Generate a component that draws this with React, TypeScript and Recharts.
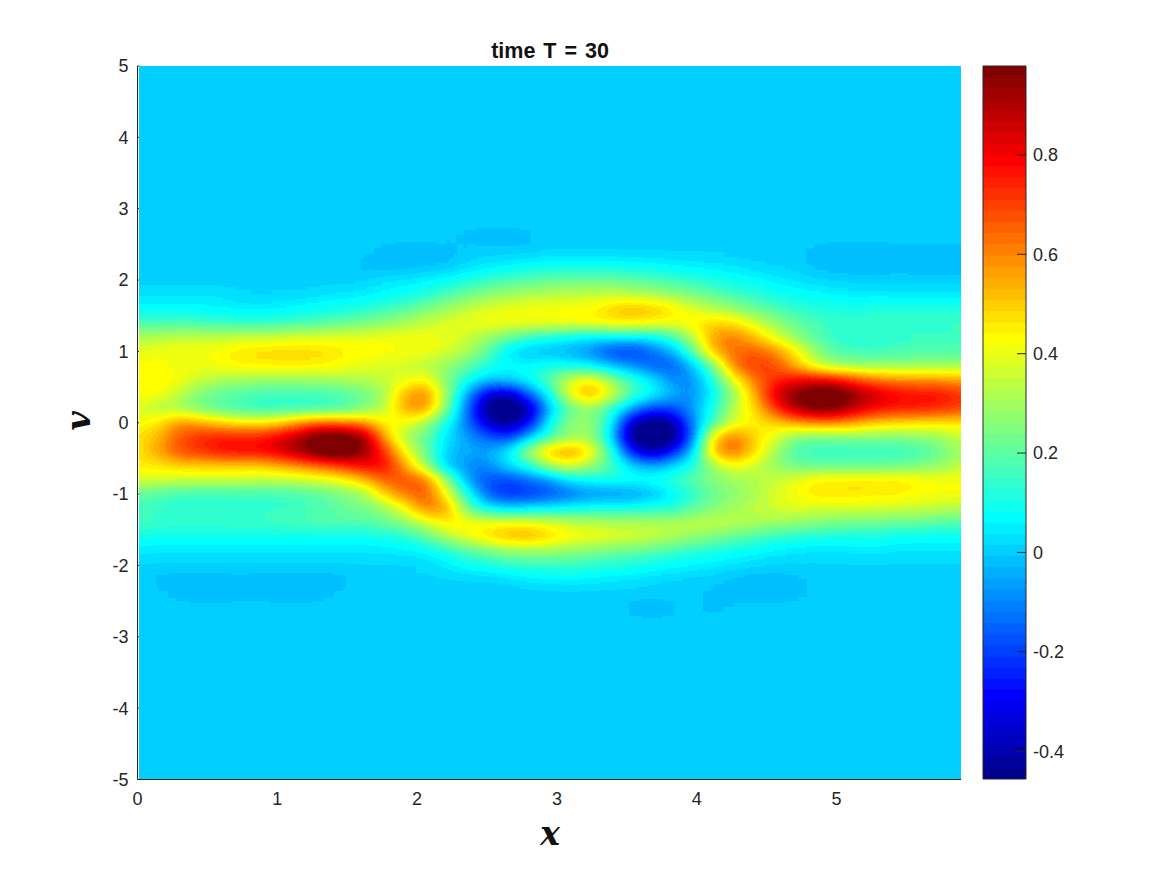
import { ComposedChart, ReferenceArea, Scatter, ScatterChart, XAxis, YAxis } from 'recharts';

// field, values in hundredths, columns follow xNodes
const xNodes = [
  0, 0.147, 0.295, 0.442, 0.589, 0.736, 0.884, 1.031, 1.178, 1.325, 1.473, 1.62, 1.767, 1.914,
  2.062, 2.209, 2.356, 2.503, 2.651, 2.798, 2.945, 3.092, 3.24, 3.387, 3.534, 3.681, 3.829,
  3.976, 4.123, 4.27, 4.418, 4.565, 4.712, 4.859, 5.007, 5.154, 5.301, 5.448, 5.596, 5.743, 5.89,
];
const calm = [0,0,0,0,0,0,0,0,0,0, 0,0,0,0,0,0,0,0,0,0, 0,0,0,0,0,0,0,0,0,0, 0,0,0,0,0,0,0,0,0,0, 0];
const p26 = [0,0,0,0,0,0,0,0,0,0, 0,0,0,0,0,0,-2,-3,-3,-2, 0,0,0,0,0,0,0,0,0,0, 0,0,0,0,0,0,0,0,0,0, 0];
const p24 = [0,0,0,0,0,0,0,0,0,0, 0,0,-2,-3,-3,-2,0,0,0,0, 1,1,1,1,1,1,1,1,1,0, 0,0,0,-2,-3,-3,-3,-2,-2,-2, -2];
const p22 = [0,0,0,0,0,0,0,0,0,0, 0,-2,-3,-3,-2,-1,2,4,6,8, 9,9,9,9,8,7,6,5,4,3, 2,1,0,-2,-3,-3,-3,-2,-3,-3, -3];
const p20 = [0,0,0,0,0,0,0,0,0,0, 0,1,3,4,6,8,11,14,17,19, 21,22,22,22,20,18,16,13,11,9, 7,5,3,2,1,0,0,0,0,0, 0];
const p18 = [3,3,3,3,3,2,1,2,2,3, 4,5,7,9,12,17,22,27,30,32, 33,34,35,35,33,31,28,24,20,16, 13,10,8,7,6,5,5,4,4,4, 4];
const p16 = [7,7,7,7,6,5,5,6,7,9, 10,12,15,19,24,30,35,38,40,42, 42,43,42,50,54,52,46,38,33,27, 22,17,14,12,11,11,12,12,12,12, 12];
const p14 = [17,17,17,16,15,14,14,15,17,19, 21,24,27,31,35,38,40,42,42,42, 42,43,44,46,46,44,42,44,50,47, 37,28,21,17,15,15,16,16,16,16, 16];
const p12 = [32,33,34,35,35,36,36,37,38,39, 40,40,41,41,41,40,36,30,22,15, 10,7,5,5,5,6,16,34,58,62, 52,38,27,18,13,12,13,14,15,15, 16];
const p10 = [40,41,42,42,43,47,48,49,49,48, 45,44,43,42,41,37,33,20,3,-2, -3,-5,-10,-20,-22,-14,-4,20,55,64, 66,60,44,27,18,16,16,17,18,18, 18];
const p08 = [42,42,41,40,42,44,45,45,45,44, 42,39,37,36,33,28,20,12,7,8, 10,8,6,-2,-8,-16,-16,-2,25,64, 72,68,52,36,29,28,28,28,29,29, 30];
const p06 = [44,44,42,36,32,30,29,29,29,30, 31,33,36,38,44,25,10,0,2,8, 20,38,46,30,15,5,-10,-8,12,42, 62,74,80,82,78,68,62,60,58,58, 56];
const p04 = [44,42,34,24,20,18,16,16,16,16, 18,23,29,56,62,30,-5,-34,-40,-15, 8,42,58,40,18,8,-3,-10,8,28, 55,85,98,108,106,93,85,80,78,78, 72];
const p02 = [36,33,30,24,19,15,13,13,13,14, 16,24,34,56,60,25,-12,-48,-56,-42, -2,20,28,14,-5,-20,-18,-6,12,35, 48,72,92,100,98,85,78,76,76,74, 70];
const p00 = [42,45,60,55,50,46,45,50,60,65, 62,58,42,42,30,10,-12,-36,-46,-30, 8,28,30,8,-38,-52,-42,-10,18,38, 44,50,56,60,60,55,50,48,47,46, 46];
const m02 = [46,54,66,74,76,76,76,84,92,106, 106,95,55,30,22,3,-6,-15,-22,-2, 16,28,30,4,-48,-56,-50,-12,50,64, 48,38,24,24,24,25,25,25,27,30, 36];
const m04 = [46,56,68,72,78,80,80,85,95,108, 108,95,72,42,22,0,-5,-5,5,32, 54,60,46,14,-26,-44,-26,0,56,66, 48,30,16,14,14,14,14,14,16,22, 30];
const m06 = [45,46,50,50,50,50,50,55,60,65, 72,80,80,55,30,-2,-8,-10,3,12, 32,40,30,18,2,-5,2,12,30,42, 35,28,22,20,20,20,20,22,24,28, 34];
const m08 = [38,37,36,36,36,36,34,34,36,38, 42,52,66,68,64,30,-6,-18,-20,-14, -8,5,8,10,10,10,14,20,26,30, 33,36,40,46,46,47,47,47,44,42, 42];
const m10 = [20,17,16,15,15,15,15,16,17,20, 25,29,50,62,68,42,12,-16,-24,-22, -18,-14,-10,-9,-8,-3,6,13,22,27, 31,38,42,47,47,47,45,45,42,42, 42];
const m12 = [15,15,14,14,14,15,15,15,16,17, 21,24,28,42,62,58,22,6,2,4, 6,8,10,10,11,12,12,20,26,30, 34,37,38,37,37,37,37,36,36,34, 32];
const m14 = [17,16,15,15,15,16,16,17,18,19, 19,18,22,27,36,46,44,42,44,42, 40,36,34,33,33,33,33,34,36,34, 32,30,28,26,24,23,22,21,20,19, 18];
const m16 = [10,9,9,9,9,9,9,9,9,9, 9,9,10,12,20,32,40,48,54,55, 50,43,42,40,38,36,32,28,24,20, 17,14,12,11,10,10,10,9,8,8, 8];
const m18 = [4,4,4,4,4,4,4,4,4,4, 4,4,4,5,6,12,18,23,27,28, 28,27,25,23,21,19,16,13,11,9, 7,5,4,3,3,4,4,3,3,3, 3];
const m20 = [1,1,1,1,1,1,1,1,1,1, 1,1,1,1,2,4,8,10,13,15, 15,15,13,12,11,9,7,6,4,3, 2,1,1,1,1,1,1,1,1,1, 1];
const m22 = [0,-2,-3,-3,-3,-2,-3,-3,-3,-3, -2,0,0,0,1,1,1,1,2,4, 5,6,5,4,3,2,1,0,0,-2, -3,-3,-2,0,0,0,0,0,0,0, 0];
const m24 = [0,0,-2,-3,-3,-2,-2,-3,-3,-2, 0,0,0,0,0,0,0,0,0,0, 0,0,0,0,0,0,0,0,-2,-3, -3,-3,-2,0,0,0,0,0,0,0, 0];
const m26 = [0,0,0,0,0,0,0,0,0,0, 0,0,0,0,0,0,0,0,0,0, 0,0,0,0,-2,-3,-2,0,-2,0, 0,0,0,0,0,0,0,0,0,0, 0];

const vNodes = [
  5, 4.8, 4.6, 4.4, 4.2, 4, 3.8, 3.6, 3.4, 3.2, 3, 2.8, 2.6, 2.4, 2.2, 2, 1.8, 1.6, 1.4, 1.2, 1,
  0.8, 0.6, 0.4, 0.2, 0, -0.2, -0.4, -0.6, -0.8, -1, -1.2, -1.4, -1.6, -1.8, -2, -2.2, -2.4, -2.6,
  -2.8, -3, -3.2, -3.4, -3.6, -3.8, -4, -4.2, -4.4, -4.6, -4.8, -5,
];
const rows = [
  calm, calm, calm, calm, calm, calm, calm, calm, calm, calm, calm, calm, p26, p24, p22, p20, p18,
  p16, p14, p12, p10, p08, p06, p04, p02, p00, m02, m04, m06, m08, m10, m12, m14, m16, m18, m20,
  m22, m24, m26, calm, calm, calm, calm, calm, calm, calm, calm, calm, calm, calm, calm,
];

const xTicks = [0, 1, 2, 3, 4, 5];
const vTicks = [-5, -4, -3, -2, -1, 0, 1, 2, 3, 4, 5];
const barTicks = [-0.4, -0.2, 0, 0.2, 0.4, 0.6, 0.8];
const barMin = -0.456;
const barMax = 0.979;

const INK = '#262626';
const FONT = '"Liberation Sans", Arial, sans-serif';
const PLOT = { left: 139, top: 66, right: 961, bottom: 779 };
const LEVELS = 64;
const PAD_LEVELS = 12; // room so the blurred peaks can still reach the end colours
const EDGE = 36;

const clip = (n: number) => Math.max(0, Math.min(1, n));
const jet = (k: number) => {
  const u = k / LEVELS;
  return [clip(1.5 - Math.abs(4 * u - 3)), clip(1.5 - Math.abs(4 * u - 2)), clip(1.5 - Math.abs(4 * u - 1))];
};
const levelColors = Array.from({ length: LEVELS }, (_, i) => jet(i + 1));
const toHex = (c: number[]) =>
  `rgb(${c.map((n) => Math.round(n * 255)).join(',')})`;

const levelSize = (barMax - barMin) / LEVELS;
const greyLow = barMin - PAD_LEVELS * levelSize;
const greyHigh = barMax + PAD_LEVELS * levelSize;
const table = [
  ...Array(PAD_LEVELS).fill(levelColors[0]),
  ...levelColors,
  ...Array(PAD_LEVELS).fill(levelColors[LEVELS - 1]),
];
const channel = (idx: number) => table.map((c: number[]) => c[idx].toFixed(4)).join(' ');

const cells = rows.flatMap((row, r) =>
  row.map((value, c) => ({ x: xNodes[c], v: vNodes[r], value: value / 100 })),
);

const cellW = (PLOT.right - PLOT.left) / (xNodes.length - 1);
const cellH = (PLOT.bottom - PLOT.top) / (vNodes.length - 1);

// one grey square per grid node, the filter below turns the greys into contour bands
const FieldCell = (props: any) => {
  const { cx, cy, payload } = props;
  const g = Math.round((255 * (payload.value - greyLow)) / (greyHigh - greyLow));
  const left = payload.x === 0 ? EDGE : 0;
  const right = payload.x === 5.89 ? EDGE : 0;
  const top = payload.v === 5 ? EDGE : 0;
  const bottom = payload.v === -5 ? EDGE : 0;
  return (
    <rect
      x={cx - cellW / 2 - left}
      y={cy - cellH / 2 - top}
      width={cellW + 1 + left + right}
      height={cellH + 1 + top + bottom}
      fill={`rgb(${g},${g},${g})`}
    />
  );
};

const ContourFilter = () => (
  <svg width={0} height={0} style={{ position: 'absolute' }}>
    <defs>
      <filter
        id="contour"
        filterUnits="userSpaceOnUse"
        x={PLOT.left - EDGE}
        y={PLOT.top - EDGE}
        width={PLOT.right - PLOT.left + 2 * EDGE}
        height={PLOT.bottom - PLOT.top + 2 * EDGE}
        colorInterpolationFilters="sRGB"
      >
        <feGaussianBlur stdDeviation="10 7" />
        <feComponentTransfer
          x={PLOT.left}
          y={PLOT.top}
          width={PLOT.right - PLOT.left}
          height={PLOT.bottom - PLOT.top}
        >
          <feFuncR type="discrete" tableValues={channel(0)} />
          <feFuncG type="discrete" tableValues={channel(1)} />
          <feFuncB type="discrete" tableValues={channel(2)} />
        </feComponentTransfer>
      </filter>
    </defs>
  </svg>
);

const tickStyle = { fontFamily: FONT, fontSize: 18, fill: INK };
const mathStyle = {
  fontFamily: '"DejaVu Serif", serif',
  fontStyle: 'italic',
  fontWeight: 700,
  fontSize: 33,
  fill: '#111',
};

const App = () => (
  <div style={{ position: 'absolute', left: 0, top: 0, width: 1167, height: 875, background: '#fff' }}>
    <style>{`.recharts-scatter { filter: url(#contour); }`}</style>
    <ContourFilter />
    <div style={{ position: 'absolute', left: 0, top: 0 }}>
      <ScatterChart
        width={1167}
        height={875}
        margin={{ top: 66, right: 206, bottom: 55.5, left: 77.5 }}
      >
        <XAxis
          type="number"
          dataKey="x"
          domain={[0, 5.89]}
          ticks={xTicks}
          height={40}
          stroke={INK}
          tick={tickStyle}
          tickSize={-2}
          tickMargin={15}
          interval={0}
        />
        <YAxis
          type="number"
          dataKey="v"
          domain={[-5, 5]}
          ticks={vTicks}
          width={60}
          stroke={INK}
          tick={tickStyle}
          tickSize={-2}
          tickMargin={11}
          interval={0}
        />
        <Scatter data={cells} shape={FieldCell} isAnimationActive={false} />
        <text
          x={550}
          y={57.5}
          textAnchor="middle"
          style={{ fontFamily: FONT, fontWeight: 700, fontSize: 21.5, wordSpacing: 2, fill: '#111' }}
        >
          time T = 30
        </text>
        <text x={550} y={845} textAnchor="middle" style={mathStyle}>
          x
        </text>
        <text x={0} y={0} textAnchor="middle" transform="translate(90 421) rotate(-90)" style={mathStyle}>
          v
        </text>
      </ScatterChart>
    </div>
    <div style={{ position: 'absolute', left: 940, top: 0 }}>
      <ComposedChart width={160} height={875} margin={{ top: 66, right: 14, bottom: 96, left: 43 }} data={[{ x: 0 }, { x: 1 }]}>
        <XAxis type="number" dataKey="x" domain={[0, 1]} allowDataOverflow hide />
        <YAxis
          type="number"
          orientation="right"
          domain={[barMin, barMax]}
          allowDataOverflow
          ticks={barTicks}
          width={60}
          stroke={INK}
          tick={tickStyle}
          tickSize={-9}
          tickMargin={16}
          interval={0}
          axisLine={false}
        />
        {/* each band runs a little under the next one so no seams show */}
        {levelColors.map((c, i) => (
          <ReferenceArea
            key={i}
            x1={0}
            x2={1}
            y1={barMin + i * levelSize}
            y2={i === LEVELS - 1 ? barMax : barMin + (i + 1.4) * levelSize}
            fill={toHex(c)}
            fillOpacity={1}
            stroke="none"
          />
        ))}
        <ReferenceArea x1={0} x2={1} y1={barMin} y2={barMax} fill="none" stroke={INK} strokeWidth={1} />
      </ComposedChart>
    </div>
  </div>
);

export default App;
